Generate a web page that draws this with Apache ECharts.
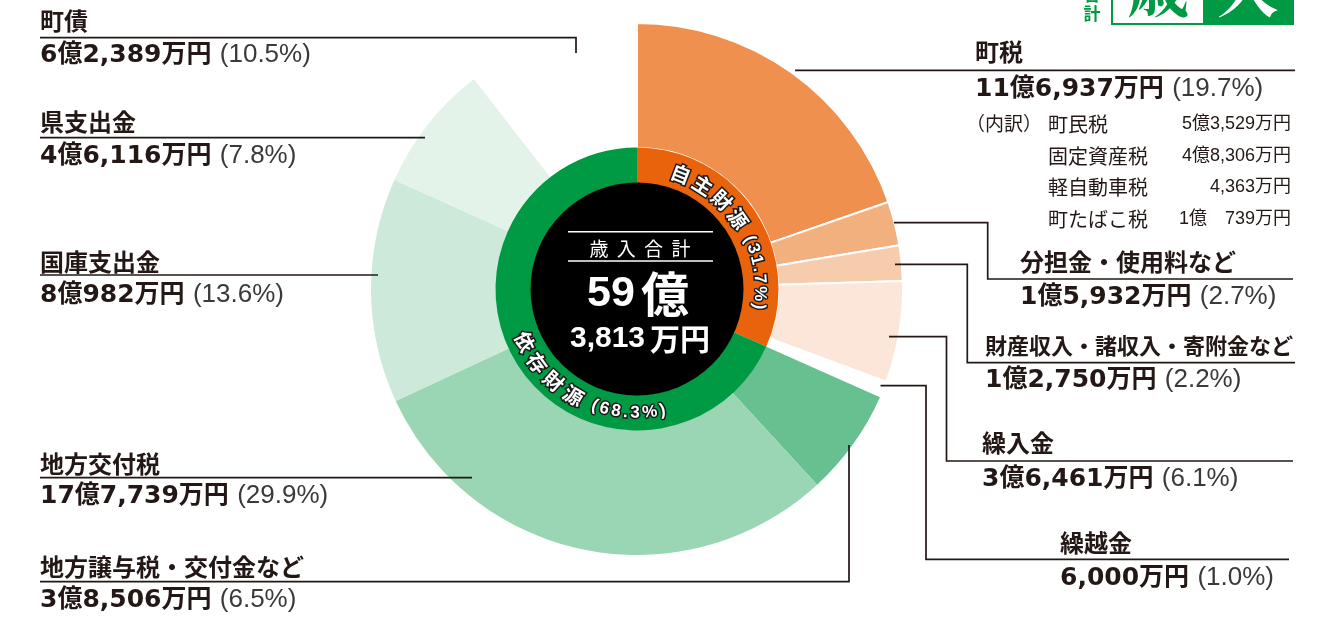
<!DOCTYPE html>
<html><head><meta charset="utf-8">
<script src="https://cdn.jsdelivr.net/npm/echarts@6/dist/echarts.min.js"></script>
<style>html,body{margin:0;padding:0;background:#fff}#c{width:1323px;height:617px}</style>
</head><body><div id="c"></div>
<script>
// ---------- DATA ----------
const categories = ['町税','分担金・使用料など','財産収入・諸収入・寄附金など','繰入金','繰越金','地方譲与税・交付金など','地方交付税','国庫支出金','県支出金','町債'];
const values = [116937,15932,12750,36461,6000,38506,177739,80982,46116,62389]; // 万円
const percentLabels = ['19.7','2.7','2.2','6.1','1.0','6.5','29.9','13.6','7.8','10.5'];
const groupNames = ['自主財源','依存財源'];
const groupMembers = [[0,1,2,3,4],[5,6,7,8,9]];
const groupPercentLabels = ['31.7','68.3'];
const totalTitle = '歳入合計';
const totalOku = '59', totalMan = '3,813';
const breakdownHead = '（内訳）';
const breakdownNames = ['町民税','固定資産税','軽自動車税','町たばこ税'];
const breakdownValues = [53529,48306,4363,10739];

// ---------- STYLE / LAYOUT ----------
const colors = ['#EF904F','#F3B07F','#F7CCAC','#FCE6D9','#FFFFFF','#67C08F','#9AD6B3','#CDE9DA','#E3F3EA','#FFFFFF'];
const groupColors = ['#E9620C','#009944'];
const CX = 637, CY = 289;
const JP = '"Noto Sans CJK JP","Noto Sans",sans-serif';
const NUMB = '"DejaVu Sans","Noto Sans CJK JP",sans-serif';
const LIB = '"Liberation Sans","Noto Sans CJK JP",sans-serif';
const INK = '#231815';
const labelPos = [
  {x:975, ny:52, vy:89, fs:24},
  {x:1020, ny:262, vy:297, fs:24},
  {x:985, ny:346, vy:380, fs:22},
  {x:982, ny:443, vy:479, fs:24},
  {x:1060, ny:543, vy:578, fs:24},
  {x:40, ny:567, vy:600, fs:24},
  {x:40, ny:464, vy:496, fs:24},
  {x:40, ny:262, vy:295, fs:24},
  {x:40, ny:122, vy:156, fs:24},
  {x:40, ny:21, vy:55, fs:24}
];
const leaders = [
  [[795,70.3],[1295,70.3]],
  [[894,222.7],[987.7,222.7],[987.7,279],[1293,279]],
  [[895,264.3],[967.3,264.3],[967.3,362.7],[1295,362.7]],
  [[889,336.7],[946.5,336.7],[946.5,461],[1293,461]],
  [[880.5,385.7],[926,385.7],[926,559.3],[1289,559.3]],
  [[849,445],[849,581.7],[40,581.7]],
  [[472,477.7],[40,477.7]],
  [[378,275],[40,275]],
  [[425,137.7],[40,137.7]],
  [[576,53],[576,37.7],[40,37.7]]
];

function fmtMan(v, pad) {
  const oku = Math.floor(v / 10000), man = v % 10000;
  let s = '';
  if (oku > 0) s += oku + '億';
  if (man > 0) {
    let m = man.toLocaleString('en-US');
    if (pad && oku > 0 && man < 1000) m = '\u3000' + m;
    s += m;
  }
  return s + '万円';
}

const total = values.reduce((a, b) => a + b, 0);
const groupValues = groupMembers.map(g => g.reduce((a, i) => a + values[i], 0));
const TA = {align:'left', verticalAlign:'middle', textAlign:'left', textVerticalAlign:'middle'};
const TC = {align:'center', verticalAlign:'middle', textAlign:'center', textVerticalAlign:'middle'};
const TR = {align:'right', verticalAlign:'middle', textAlign:'right', textVerticalAlign:'middle'};

const graphics = [];
leaders.forEach(pts => graphics.push({type:'polyline', silent:true, z:5, shape:{points:pts}, style:{stroke:INK, lineWidth:1.7, fill:null}}));
categories.forEach((name, i) => {
  const p = labelPos[i];
  graphics.push({type:'text', x:p.x, y:p.ny, silent:true, z:6, style:Object.assign({text:name, font:'bold ' + p.fs + 'px ' + JP, fill:INK}, TA)});
  graphics.push({type:'text', x:p.x, y:p.vy, silent:true, z:6, style:Object.assign({
    text:'{a|' + fmtMan(values[i]) + '} {b|(' + percentLabels[i] + '%)}',
    rich:{a:{font:'bold 25px ' + NUMB, fill:INK, color:INK}, b:{font:'26px ' + LIB, fill:'#3a3a3a', color:'#3a3a3a', padding:[0,0,0,5]}}
  }, TA)});
});
const bdY = [124, 156, 187.5, 219];
graphics.push({type:'text', x:966, y:bdY[0], silent:true, style:Object.assign({text:breakdownHead, font:'19px ' + JP, fill:INK}, TA)});
breakdownNames.forEach((n, i) => {
  graphics.push({type:'text', x:1048, y:bdY[i], silent:true, style:Object.assign({text:n, font:'20px ' + JP, fill:INK}, TA)});
  graphics.push({type:'text', x:1291, y:bdY[i], silent:true, style:Object.assign({text:fmtMan(breakdownValues[i], true), font:'18px ' + LIB, fill:INK}, TR)});
});
// center
graphics.push({type:'line', silent:true, z:20, shape:{x1:568, y1:231.7, x2:713, y2:231.7}, style:{stroke:'#fff', lineWidth:1.5}});
graphics.push({type:'line', silent:true, z:20, shape:{x1:568, y1:261, x2:713, y2:261}, style:{stroke:'#fff', lineWidth:1.5}});
Array.from(totalTitle).forEach((ch, i) => {
  graphics.push({type:'text', x:599 + i * 27.3, y:248.5, silent:true, z:20, style:Object.assign({text:ch, font:'19px ' + JP, fill:'#fff'}, TC)});
});
graphics.push({type:'text', x:638, y:294, silent:true, z:20, style:Object.assign({
  text:'{n|' + totalOku + '}{k|億}',
  rich:{n:{font:'bold 43px ' + LIB, fill:'#fff', color:'#fff'}, k:{font:'bold 48px ' + JP, fill:'#fff', color:'#fff', padding:[0,0,0,6]}}
}, TC)});
graphics.push({type:'text', x:640, y:338.5, silent:true, z:20, style:Object.assign({
  text:'{n|' + totalMan + '}{k|万円}',
  rich:{n:{font:'bold 30px ' + LIB, fill:'#fff', color:'#fff'}, k:{font:'bold 30px ' + JP, fill:'#fff', color:'#fff', padding:[0,0,0,5]}}
}, TC)});

// curved ring labels
const mctx = document.createElement('canvas').getContext('2d');
function arcText(str, startDeg, dir, r) {
  let ang = startDeg;
  for (const ch of str) {
    const isK = /[\u3000-\u9fff]/.test(ch);
    const font = isK ? 'bold 20px ' + JP : 'bold 17px ' + LIB;
    const sp = isK ? 4.5 : 2.5;
    mctx.font = font;
    const w = mctx.measureText(ch).width;
    const half = (w / 2 + sp / 2) / r * 180 / Math.PI;
    ang += dir * half;
    const t = ang * Math.PI / 180;
    const x = CX + r * Math.sin(t), y = CY - r * Math.cos(t);
    const rot = dir > 0 ? -t : -(t - Math.PI);
    if (ch !== ' ') graphics.push({type:'text', x, y, rotation:rot, silent:true, z:30, style:Object.assign({text:ch, font, fill:'#fff', stroke:'#1a1a1a', lineWidth:3, strokeFirst:true}, TC)});
    ang += dir * half;
  }
}
arcText(groupNames[0] + ' (' + groupPercentLabels[0] + '%)', 15.2, 1, 123);
arcText(groupNames[1] + ' (' + groupPercentLabels[1] + '%)', 250.4, -1, 124);

// header
graphics.push({type:'rect', silent:true, shape:{x:1112, y:-40, width:181, height:64}, style:{fill:'#fff', stroke:'#009944', lineWidth:2}});
graphics.push({type:'rect', silent:true, shape:{x:1203, y:-40, width:90, height:64}, style:{fill:'#009944'}});
graphics.push({type:'text', x:1158, y:-12, silent:true, style:Object.assign({text:'歳', font:'bold 62px "Noto Serif CJK JP","Noto Sans CJK JP",serif', fill:'#009944'}, TC)});
graphics.push({type:'text', x:1248, y:-12, silent:true, style:Object.assign({text:'入', font:'bold 62px "Noto Serif CJK JP","Noto Sans CJK JP",serif', fill:'#fff'}, TC)});
graphics.push({type:'text', x:1092, y:-5, silent:true, style:Object.assign({text:'合', font:'bold 17px ' + JP, fill:'#009944'}, TC)});
graphics.push({type:'text', x:1092, y:14, silent:true, style:Object.assign({text:'計', font:'bold 17px ' + JP, fill:'#009944'}, TC)});

const chart = echarts.init(document.getElementById('c'), null, {renderer:'canvas'});
chart.setOption({
  animation:false,
  backgroundColor:'#fff',
  series:[
    {type:'pie', center:[CX, CY], radius:[141, 266], startAngle:90, clockwise:true, silent:true,
     label:{show:false}, labelLine:{show:false}, z:1,
     data:categories.map((n, i) => ({name:n, value:values[i], itemStyle:{color:colors[i], borderColor:'#fff', borderWidth: i < 4 ? 2 : 0}}))},
    {type:'pie', center:[CX, CY], radius:[106, 141.5], startAngle:90, clockwise:true, silent:true,
     label:{show:false}, labelLine:{show:false}, z:2,
     data:groupNames.map((n, i) => ({name:n, value:groupValues[i], itemStyle:{color:groupColors[i]}}))},
    {type:'pie', center:[CX, CY], radius:[0, 106.5], startAngle:90, silent:true,
     label:{show:false}, labelLine:{show:false}, z:3,
     data:[{name:totalTitle, value:total, itemStyle:{color:'#000'}}]}
  ],
  graphic:{elements:graphics}
});
</script></body></html>
